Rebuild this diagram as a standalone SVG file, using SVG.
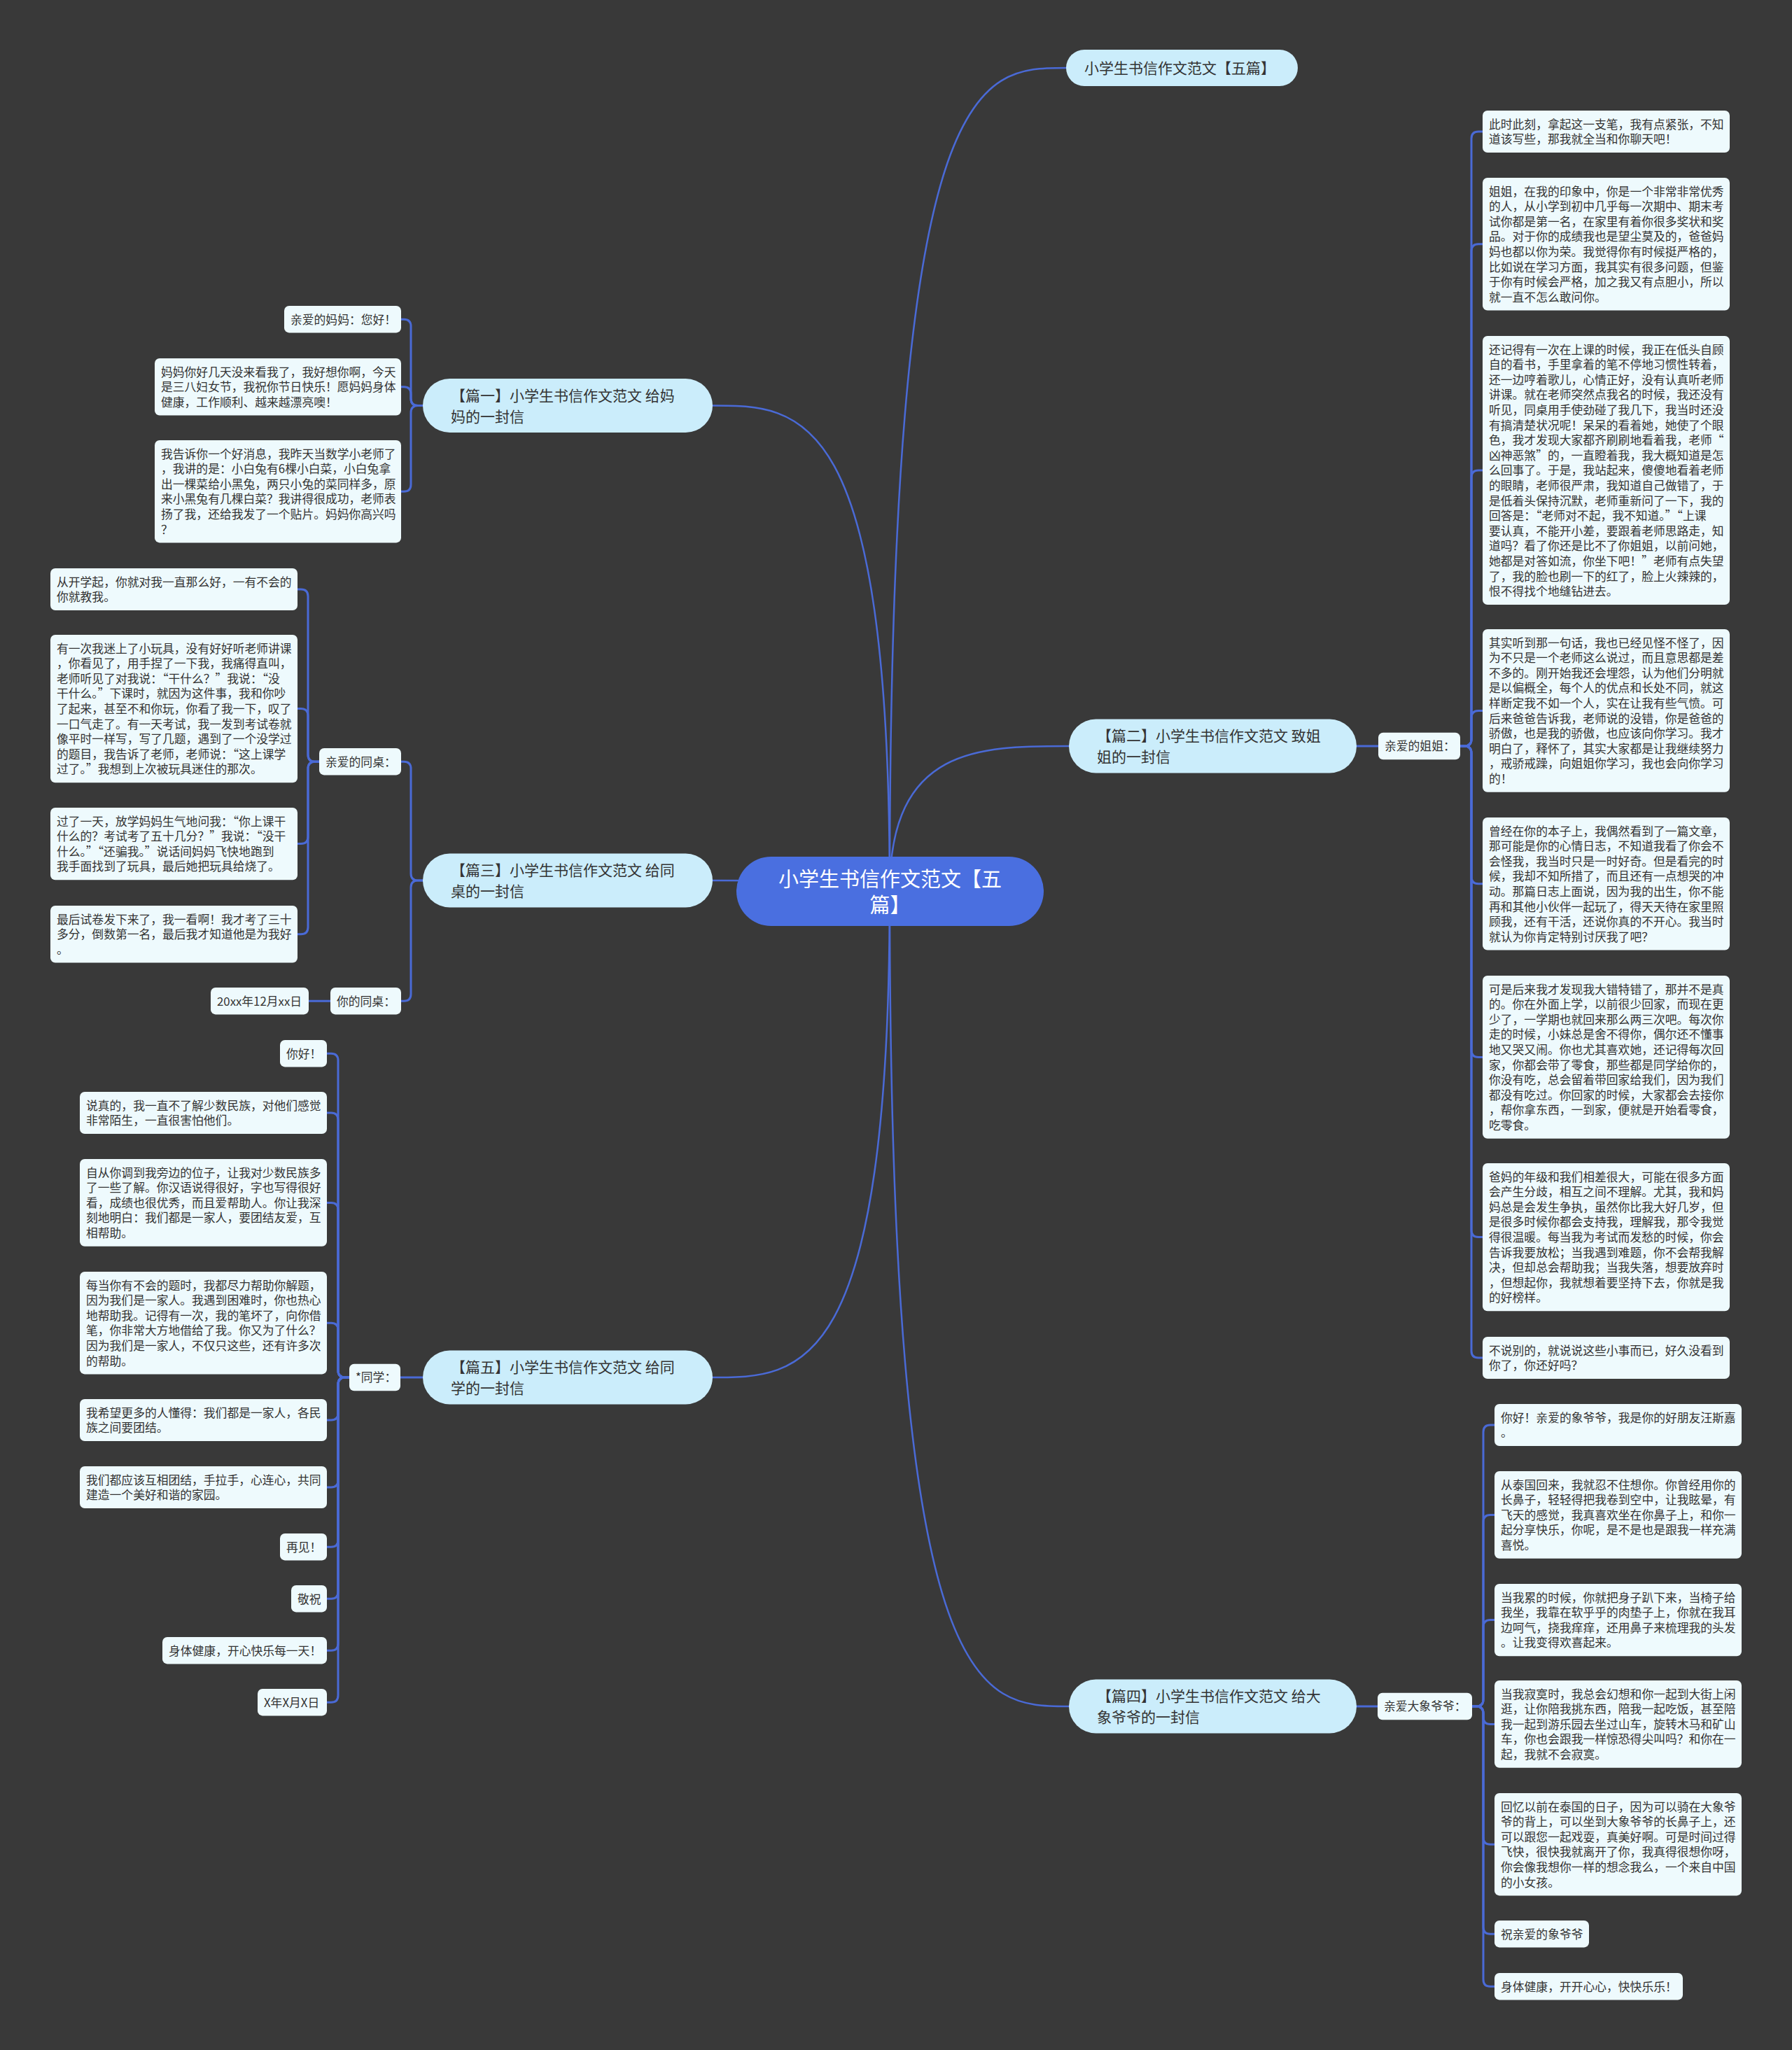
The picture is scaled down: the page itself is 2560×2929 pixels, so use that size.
<svg xmlns="http://www.w3.org/2000/svg" width="2560" height="2929" viewBox="0 0 2560 2929">
<style>
text{font-family:"Noto Sans CJK SC","Noto Sans",sans-serif}
.lf rect{fill:#eefafd}
.lf text{font-size:16.8px;fill:#333}
.br rect{fill:#cbedfb}
.br text{font-size:21px;fill:#333}
.rt rect{fill:#4a6fe0}
.rt text{font-size:29px;fill:#fff;text-anchor:middle}
#connectors path{fill:none;stroke:#4a6ad6;stroke-width:3;stroke-linecap:round}
#connectors .mc{stroke-width:2.5}
</style>
<rect width="2560" height="2929" fill="#393939"/>
<g id="connectors">
<path class="mc" d="M1271 1273C1271 97 1397 97 1523 97"/>
<path class="mc" d="M1271 1273C1271 1066 1399 1066 1527 1066"/>
<path class="mc" d="M1271 1273C1271 2438 1399 2438 1527 2438"/>
<path class="mc" d="M1271 1273C1271 579.5 1144.5 579.5 1018 579.5"/>
<path class="mc" d="M1271 1273C1271 1258 1144.5 1258 1018 1258"/>
<path class="mc" d="M1271 1273C1271 1968 1144.5 1968 1018 1968"/>
<path d="M604 579.5H597Q587 579.5 587 569.5V466.2Q587 456.2 577 456.2H573"/>
<path d="M604 579.5H597Q587 579.5 587 569.5V562.8Q587 552.8 577 552.8H573"/>
<path d="M604 579.5H597Q587 579.5 587 589.5V692.2Q587 702.2 577 702.2H573"/>
<path d="M604 1258H597Q587 1258 587 1248V1098.2Q587 1088.2 577 1088.2H573"/>
<path d="M604 1258H597Q587 1258 587 1268V1420.2Q587 1430.2 577 1430.2H573"/>
<path d="M472 1430.2H441"/>
<path d="M456 1088.2H450Q440 1088.2 440 1078.2V852Q440 842 430 842H425"/>
<path d="M456 1088.2H450Q440 1088.2 440 1078.2V1022.6Q440 1012.6 430 1012.6H425"/>
<path d="M456 1088.2H450Q440 1088.2 440 1098.2V1195.6Q440 1205.6 430 1205.6H425"/>
<path d="M456 1088.2H450Q440 1088.2 440 1098.2V1324.8Q440 1334.8 430 1334.8H425"/>
<path d="M604 1968H572"/>
<path d="M499 1968H493Q483 1968 483 1958V1515.2Q483 1505.2 473 1505.2H467"/>
<path d="M499 1968H493Q483 1968 483 1958V1600Q483 1590 473 1590H467"/>
<path d="M499 1968H493Q483 1968 483 1958V1728.4Q483 1718.4 473 1718.4H467"/>
<path d="M499 1968H493Q483 1968 483 1958V1900.2Q483 1890.2 473 1890.2H467"/>
<path d="M499 1968H493Q483 1968 483 1978V2019Q483 2029 473 2029H467"/>
<path d="M499 1968H493Q483 1968 483 1978V2115Q483 2125 473 2125H467"/>
<path d="M499 1968H493Q483 1968 483 1978V2200.2Q483 2210.2 473 2210.2H467"/>
<path d="M499 1968H493Q483 1968 483 1978V2274.2Q483 2284.2 473 2284.2H467"/>
<path d="M499 1968H493Q483 1968 483 1978V2348.2Q483 2358.2 473 2358.2H467"/>
<path d="M499 1968H493Q483 1968 483 1978V2422.2Q483 2432.2 473 2432.2H467"/>
<path d="M1938 1066H1969"/>
<path d="M2086 1066H2092Q2102 1066 2102 1056V198Q2102 188 2112 188H2118"/>
<path d="M2086 1066H2092Q2102 1066 2102 1056V358.8Q2102 348.8 2112 348.8H2118"/>
<path d="M2086 1066H2092Q2102 1066 2102 1056V682Q2102 672 2112 672H2118"/>
<path d="M2086 1066H2092Q2102 1066 2102 1056V1025.4Q2102 1015.4 2112 1015.4H2118"/>
<path d="M2086 1066H2092Q2102 1066 2102 1076V1252.8Q2102 1262.8 2112 1262.8H2118"/>
<path d="M2086 1066H2092Q2102 1066 2102 1076V1500.4Q2102 1510.4 2112 1510.4H2118"/>
<path d="M2086 1066H2092Q2102 1066 2102 1076V1757.6Q2102 1767.6 2112 1767.6H2118"/>
<path d="M2086 1066H2092Q2102 1066 2102 1076V1930Q2102 1940 2112 1940H2118"/>
<path d="M1938 2438H1968"/>
<path d="M2103 2438H2109Q2119 2438 2119 2428V2046Q2119 2036 2129 2036H2135"/>
<path d="M2103 2438H2109Q2119 2438 2119 2428V2174.4Q2119 2164.4 2129 2164.4H2135"/>
<path d="M2103 2438H2109Q2119 2438 2119 2428V2324.6Q2119 2314.6 2129 2314.6H2135"/>
<path d="M2103 2438H2109Q2119 2438 2119 2448V2453.4Q2119 2463.4 2129 2463.4H2135"/>
<path d="M2103 2438H2109Q2119 2438 2119 2448V2625.2Q2119 2635.2 2129 2635.2H2135"/>
<path d="M2103 2438H2109Q2119 2438 2119 2448V2753.2Q2119 2763.2 2129 2763.2H2135"/>
<path d="M2103 2438H2109Q2119 2438 2119 2448V2828.2Q2119 2838.2 2129 2838.2H2135"/>
</g>

<g id="root" class="rt"><rect x="1052" y="1224" width="439" height="99" rx="49.5"/><text x="1271.5" y="1267">小学生书信作文范文【五<tspan x="1271.5" y="1304">篇】</tspan></text></g>

<g id="b0" class="br" transform="translate(1523,71)"><rect width="331" height="52" rx="26"/><text x="26" y="34">小学生书信作文范文【五篇】</text></g>
<g id="b1" class="br" transform="translate(604,541)"><rect width="414" height="77" rx="38.5"/><text x="40" y="31.5">【篇一】小学生书信作文范文 给妈<tspan x="40" y="61.5">妈的一封信</tspan></text></g>
<g id="b2" class="br" transform="translate(1527,1027.5)"><rect width="411" height="77" rx="38.5"/><text x="40" y="31.5">【篇二】小学生书信作文范文 致姐<tspan x="40" y="61.5">姐的一封信</tspan></text></g>
<g id="b3" class="br" transform="translate(604,1219.5)"><rect width="414" height="77" rx="38.5"/><text x="40" y="31.5">【篇三】小学生书信作文范文 给同<tspan x="40" y="61.5">桌的一封信</tspan></text></g>
<g id="b5" class="br" transform="translate(604,1929.5)"><rect width="414" height="77" rx="38.5"/><text x="40" y="31.5">【篇五】小学生书信作文范文 给同<tspan x="40" y="61.5">学的一封信</tspan></text></g>
<g id="b4" class="br" transform="translate(1527,2399.5)"><rect width="411" height="77" rx="38.5"/><text x="40" y="31.5">【篇四】小学生书信作文范文 给大<tspan x="40" y="61.5">象爷爷的一封信</tspan></text></g>

<g id="m1" class="lf" transform="translate(406,437)"><rect width="167" height="38.4" rx="7"/><text x="9" y="25.6">亲爱的妈妈：您好！</text></g>
<g id="m2" class="lf" transform="translate(221,512)"><rect width="352" height="81.6" rx="7"/><text x="9" y="25.6"><tspan x="9">妈妈你好几天没来看我了，我好想你啊，今天</tspan><tspan x="9" dy="21.6">是三八妇女节，我祝你节日快乐！愿妈妈身体</tspan><tspan x="9" dy="21.6">健康，工作顺利、越来越漂亮噢！</tspan></text></g>
<g id="m3" class="lf" transform="translate(221,629)"><rect width="352" height="146.4" rx="7"/><text x="9" y="25.6"><tspan x="9">我告诉你一个好消息，我昨天当数学小老师了</tspan><tspan x="9" dy="21.6">，我讲的是：小白兔有6棵小白菜，小白兔拿</tspan><tspan x="9" dy="21.6">出一棵菜给小黑兔，两只小兔的菜同样多，原</tspan><tspan x="9" dy="21.6">来小黑兔有几棵白菜？我讲得很成功，老师表</tspan><tspan x="9" dy="21.6">扬了我，还给我发了一个贴片。妈妈你高兴吗</tspan><tspan x="9" dy="21.6">？</tspan></text></g>

<g id="t0" class="lf" transform="translate(456,1069)"><rect width="117" height="38.4" rx="7"/><text x="9" y="25.6">亲爱的同桌：</text></g>
<g id="t1" class="lf" transform="translate(72,812)"><rect width="353" height="60" rx="7"/><text x="9" y="25.6"><tspan x="9">从开学起，你就对我一直那么好，一有不会的</tspan><tspan x="9" dy="21.6">你就教我。</tspan></text></g>
<g id="t2" class="lf" transform="translate(72,907)"><rect width="353" height="211.2" rx="7"/><text x="9" y="25.6"><tspan x="9">有一次我迷上了小玩具，没有好好听老师讲课</tspan><tspan x="9" dy="21.6">，你看见了，用手捏了一下我，我痛得直叫，</tspan><tspan x="9" dy="21.6">老师听见了对我说：“干什么？”我说：“没</tspan><tspan x="9" dy="21.6">干什么。”下课时，就因为这件事，我和你吵</tspan><tspan x="9" dy="21.6">了起来，甚至不和你玩，你看了我一下，叹了</tspan><tspan x="9" dy="21.6">一口气走了。有一天考试，我一发到考试卷就</tspan><tspan x="9" dy="21.6">像平时一样写，写了几题，遇到了一个没学过</tspan><tspan x="9" dy="21.6">的题目，我告诉了老师，老师说：“这上课学</tspan><tspan x="9" dy="21.6">过了。”我想到上次被玩具迷住的那次。</tspan></text></g>
<g id="t3" class="lf" transform="translate(72,1154)"><rect width="353" height="103.2" rx="7"/><text x="9" y="25.6"><tspan x="9">过了一天，放学妈妈生气地问我：“你上课干</tspan><tspan x="9" dy="21.6">什么的？考试考了五十几分？”我说：“没干</tspan><tspan x="9" dy="21.6">什么。”“还骗我。”说话间妈妈飞快地跑到</tspan><tspan x="9" dy="21.6">我手面找到了玩具，最后她把玩具给烧了。</tspan></text></g>
<g id="t4" class="lf" transform="translate(72,1294)"><rect width="353" height="81.6" rx="7"/><text x="9" y="25.6"><tspan x="9">最后试卷发下来了，我一看啊！我才考了三十</tspan><tspan x="9" dy="21.6">多分，倒数第一名，最后我才知道他是为我好</tspan><tspan x="9" dy="21.6">。</tspan></text></g>
<g id="t5" class="lf" transform="translate(472,1411)"><rect width="101" height="38.4" rx="7"/><text x="9" y="25.6">你的同桌：</text></g>
<g id="t6" class="lf" transform="translate(301,1411)"><rect width="140" height="38.4" rx="7"/><text x="9" y="25.6">20xx年12月xx日</text></g>

<g id="s0" class="lf" transform="translate(499,1948.8)"><rect width="73" height="38.4" rx="7"/><text x="9" y="25.6">*同学：</text></g>
<g id="s1" class="lf" transform="translate(400,1486)"><rect width="67" height="38.4" rx="7"/><text x="9" y="25.6">你好！</text></g>
<g id="s2" class="lf" transform="translate(114,1560)"><rect width="353" height="60" rx="7"/><text x="9" y="25.6"><tspan x="9">说真的，我一直不了解少数民族，对他们感觉</tspan><tspan x="9" dy="21.6">非常陌生，一直很害怕他们。</tspan></text></g>
<g id="s3" class="lf" transform="translate(114,1656)"><rect width="353" height="124.8" rx="7"/><text x="9" y="25.6"><tspan x="9">自从你调到我旁边的位子，让我对少数民族多</tspan><tspan x="9" dy="21.6">了一些了解。你汉语说得很好，字也写得很好</tspan><tspan x="9" dy="21.6">看，成绩也很优秀，而且爱帮助人。你让我深</tspan><tspan x="9" dy="21.6">刻地明白：我们都是一家人，要团结友爱，互</tspan><tspan x="9" dy="21.6">相帮助。</tspan></text></g>
<g id="s4" class="lf" transform="translate(114,1817)"><rect width="353" height="146.4" rx="7"/><text x="9" y="25.6"><tspan x="9">每当你有不会的题时，我都尽力帮助你解题，</tspan><tspan x="9" dy="21.6">因为我们是一家人。我遇到困难时，你也热心</tspan><tspan x="9" dy="21.6">地帮助我。记得有一次，我的笔坏了，向你借</tspan><tspan x="9" dy="21.6">笔，你非常大方地借给了我。你又为了什么？</tspan><tspan x="9" dy="21.6">因为我们是一家人，不仅只这些，还有许多次</tspan><tspan x="9" dy="21.6">的帮助。</tspan></text></g>
<g id="s5" class="lf" transform="translate(114,1999)"><rect width="353" height="60" rx="7"/><text x="9" y="25.6"><tspan x="9">我希望更多的人懂得：我们都是一家人，各民</tspan><tspan x="9" dy="21.6">族之间要团结。</tspan></text></g>
<g id="s6" class="lf" transform="translate(114,2095)"><rect width="353" height="60" rx="7"/><text x="9" y="25.6"><tspan x="9">我们都应该互相团结，手拉手，心连心，共同</tspan><tspan x="9" dy="21.6">建造一个美好和谐的家园。</tspan></text></g>
<g id="s7" class="lf" transform="translate(400,2191)"><rect width="67" height="38.4" rx="7"/><text x="9" y="25.6">再见！</text></g>
<g id="s8" class="lf" transform="translate(416,2265)"><rect width="51" height="38.4" rx="7"/><text x="9" y="25.6">敬祝</text></g>
<g id="s9" class="lf" transform="translate(232,2339)"><rect width="235" height="38.4" rx="7"/><text x="9" y="25.6">身体健康，开心快乐每一天！</text></g>
<g id="s10" class="lf" transform="translate(368,2413)"><rect width="99" height="38.4" rx="7"/><text x="9" y="25.6">X年X月X日</text></g>

<g id="j0" class="lf" transform="translate(1969,1046.8)"><rect width="117" height="38.4" rx="7"/><text x="9" y="25.6">亲爱的姐姐：</text></g>
<g id="j1" class="lf" transform="translate(2118,158)"><rect width="353" height="60" rx="7"/><text x="9" y="25.6"><tspan x="9">此时此刻，拿起这一支笔，我有点紧张，不知</tspan><tspan x="9" dy="21.6">道该写些，那我就全当和你聊天吧！</tspan></text></g>
<g id="j2" class="lf" transform="translate(2118,254)"><rect width="353" height="189.6" rx="7"/><text x="9" y="25.6"><tspan x="9">姐姐，在我的印象中，你是一个非常非常优秀</tspan><tspan x="9" dy="21.6">的人，从小学到初中几乎每一次期中、期末考</tspan><tspan x="9" dy="21.6">试你都是第一名，在家里有着你很多奖状和奖</tspan><tspan x="9" dy="21.6">品。对于你的成绩我也是望尘莫及的，爸爸妈</tspan><tspan x="9" dy="21.6">妈也都以你为荣。我觉得你有时候挺严格的，</tspan><tspan x="9" dy="21.6">比如说在学习方面，我其实有很多问题，但鉴</tspan><tspan x="9" dy="21.6">于你有时候会严格，加之我又有点胆小，所以</tspan><tspan x="9" dy="21.6">就一直不怎么敢问你。</tspan></text></g>
<g id="j3" class="lf" transform="translate(2118,480)"><rect width="353" height="384" rx="7"/><text x="9" y="25.6"><tspan x="9">还记得有一次在上课的时候，我正在低头自顾</tspan><tspan x="9" dy="21.6">自的看书，手里拿着的笔不停地习惯性转着，</tspan><tspan x="9" dy="21.6">还一边哼着歌儿，心情正好，没有认真听老师</tspan><tspan x="9" dy="21.6">讲课。就在老师突然点我名的时候，我还没有</tspan><tspan x="9" dy="21.6">听见，同桌用手使劲碰了我几下，我当时还没</tspan><tspan x="9" dy="21.6">有搞清楚状况呢！呆呆的看着她，她使了个眼</tspan><tspan x="9" dy="21.6">色，我才发现大家都齐刷刷地看着我，老师“</tspan><tspan x="9" dy="21.6">凶神恶煞”的，一直瞪着我，我大概知道是怎</tspan><tspan x="9" dy="21.6">么回事了。于是，我站起来，傻傻地看着老师</tspan><tspan x="9" dy="21.6">的眼睛，老师很严肃，我知道自己做错了，于</tspan><tspan x="9" dy="21.6">是低着头保持沉默，老师重新问了一下，我的</tspan><tspan x="9" dy="21.6">回答是：“老师对不起，我不知道。”“上课</tspan><tspan x="9" dy="21.6">要认真，不能开小差，要跟着老师思路走，知</tspan><tspan x="9" dy="21.6">道吗？看了你还是比不了你姐姐，以前问她，</tspan><tspan x="9" dy="21.6">她都是对答如流，你坐下吧！”老师有点失望</tspan><tspan x="9" dy="21.6">了，我的脸也刷一下的红了，脸上火辣辣的，</tspan><tspan x="9" dy="21.6">恨不得找个地缝钻进去。</tspan></text></g>
<g id="j4" class="lf" transform="translate(2118,899)"><rect width="353" height="232.8" rx="7"/><text x="9" y="25.6"><tspan x="9">其实听到那一句话，我也已经见怪不怪了，因</tspan><tspan x="9" dy="21.6">为不只是一个老师这么说过，而且意思都是差</tspan><tspan x="9" dy="21.6">不多的。刚开始我还会埋怨，认为他们分明就</tspan><tspan x="9" dy="21.6">是以偏概全，每个人的优点和长处不同，就这</tspan><tspan x="9" dy="21.6">样断定我不如一个人，实在让我有些气愤。可</tspan><tspan x="9" dy="21.6">后来爸爸告诉我，老师说的没错，你是爸爸的</tspan><tspan x="9" dy="21.6">骄傲，也是我的骄傲，也应该向你学习。我才</tspan><tspan x="9" dy="21.6">明白了，释怀了，其实大家都是让我继续努力</tspan><tspan x="9" dy="21.6">，戒骄戒躁，向姐姐你学习，我也会向你学习</tspan><tspan x="9" dy="21.6">的！</tspan></text></g>
<g id="j5" class="lf" transform="translate(2118,1168)"><rect width="353" height="189.6" rx="7"/><text x="9" y="25.6"><tspan x="9">曾经在你的本子上，我偶然看到了一篇文章，</tspan><tspan x="9" dy="21.6">那可能是你的心情日志，不知道我看了你会不</tspan><tspan x="9" dy="21.6">会怪我，我当时只是一时好奇。但是看完的时</tspan><tspan x="9" dy="21.6">候，我却不知所措了，而且还有一点想哭的冲</tspan><tspan x="9" dy="21.6">动。那篇日志上面说，因为我的出生，你不能</tspan><tspan x="9" dy="21.6">再和其他小伙伴一起玩了，得天天待在家里照</tspan><tspan x="9" dy="21.6">顾我，还有干活，还说你真的不开心。我当时</tspan><tspan x="9" dy="21.6">就认为你肯定特别讨厌我了吧？</tspan></text></g>
<g id="j6" class="lf" transform="translate(2118,1394)"><rect width="353" height="232.8" rx="7"/><text x="9" y="25.6"><tspan x="9">可是后来我才发现我大错特错了，那并不是真</tspan><tspan x="9" dy="21.6">的。你在外面上学，以前很少回家，而现在更</tspan><tspan x="9" dy="21.6">少了，一学期也就回来那么两三次吧。每次你</tspan><tspan x="9" dy="21.6">走的时候，小妹总是舍不得你，偶尔还不懂事</tspan><tspan x="9" dy="21.6">地又哭又闹。你也尤其喜欢她，还记得每次回</tspan><tspan x="9" dy="21.6">家，你都会带了零食，那些都是同学给你的，</tspan><tspan x="9" dy="21.6">你没有吃，总会留着带回家给我们，因为我们</tspan><tspan x="9" dy="21.6">都没有吃过。你回家的时候，大家都会去接你</tspan><tspan x="9" dy="21.6">，帮你拿东西，一到家，便就是开始看零食，</tspan><tspan x="9" dy="21.6">吃零食。</tspan></text></g>
<g id="j7" class="lf" transform="translate(2118,1662)"><rect width="353" height="211.2" rx="7"/><text x="9" y="25.6"><tspan x="9">爸妈的年级和我们相差很大，可能在很多方面</tspan><tspan x="9" dy="21.6">会产生分歧，相互之间不理解。尤其，我和妈</tspan><tspan x="9" dy="21.6">妈总是会发生争执，虽然你比我大好几岁，但</tspan><tspan x="9" dy="21.6">是很多时候你都会支持我，理解我，那令我觉</tspan><tspan x="9" dy="21.6">得很温暖。每当我为考试而发愁的时候，你会</tspan><tspan x="9" dy="21.6">告诉我要放松；当我遇到难题，你不会帮我解</tspan><tspan x="9" dy="21.6">决，但却总会帮助我；当我失落，想要放弃时</tspan><tspan x="9" dy="21.6">，但想起你，我就想着要坚持下去，你就是我</tspan><tspan x="9" dy="21.6">的好榜样。</tspan></text></g>
<g id="j8" class="lf" transform="translate(2118,1910)"><rect width="353" height="60" rx="7"/><text x="9" y="25.6"><tspan x="9">不说别的，就说说这些小事而已，好久没看到</tspan><tspan x="9" dy="21.6">你了，你还好吗？</tspan></text></g>

<g id="e0" class="lf" transform="translate(1968,2418.8)"><rect width="135" height="38.4" rx="7"/><text x="9" y="25.6">亲爱大象爷爷：</text></g>
<g id="e1" class="lf" transform="translate(2135,2006)"><rect width="353" height="60" rx="7"/><text x="9" y="25.6"><tspan x="9">你好！亲爱的象爷爷，我是你的好朋友汪斯嘉</tspan><tspan x="9" dy="21.6">。</tspan></text></g>
<g id="e2" class="lf" transform="translate(2135,2102)"><rect width="353" height="124.8" rx="7"/><text x="9" y="25.6"><tspan x="9">从泰国回来，我就忍不住想你。你曾经用你的</tspan><tspan x="9" dy="21.6">长鼻子，轻轻得把我卷到空中，让我眩晕，有</tspan><tspan x="9" dy="21.6">飞天的感觉，我真喜欢坐在你鼻子上，和你一</tspan><tspan x="9" dy="21.6">起分享快乐，你呢，是不是也是跟我一样充满</tspan><tspan x="9" dy="21.6">喜悦。</tspan></text></g>
<g id="e3" class="lf" transform="translate(2135,2263)"><rect width="353" height="103.2" rx="7"/><text x="9" y="25.6"><tspan x="9">当我累的时候，你就把身子趴下来，当椅子给</tspan><tspan x="9" dy="21.6">我坐，我靠在软乎乎的肉垫子上，你就在我耳</tspan><tspan x="9" dy="21.6">边呵气，挠我痒痒，还用鼻子来梳理我的头发</tspan><tspan x="9" dy="21.6">。让我变得欢喜起来。</tspan></text></g>
<g id="e4" class="lf" transform="translate(2135,2401)"><rect width="353" height="124.8" rx="7"/><text x="9" y="25.6"><tspan x="9">当我寂寞时，我总会幻想和你一起到大街上闲</tspan><tspan x="9" dy="21.6">逛，让你陪我挑东西，陪我一起吃饭，甚至陪</tspan><tspan x="9" dy="21.6">我一起到游乐园去坐过山车，旋转木马和矿山</tspan><tspan x="9" dy="21.6">车，你也会跟我一样惊恐得尖叫吗？和你在一</tspan><tspan x="9" dy="21.6">起，我就不会寂寞。</tspan></text></g>
<g id="e5" class="lf" transform="translate(2135,2562)"><rect width="353" height="146.4" rx="7"/><text x="9" y="25.6"><tspan x="9">回忆以前在泰国的日子，因为可以骑在大象爷</tspan><tspan x="9" dy="21.6">爷的背上，可以坐到大象爷爷的长鼻子上，还</tspan><tspan x="9" dy="21.6">可以跟您一起戏耍，真美好啊。可是时间过得</tspan><tspan x="9" dy="21.6">飞快，很快我就离开了你，我真得很想你呀，</tspan><tspan x="9" dy="21.6">你会像我想你一样的想念我么，一个来自中国</tspan><tspan x="9" dy="21.6">的小女孩。</tspan></text></g>
<g id="e6" class="lf" transform="translate(2135,2744)"><rect width="135" height="38.4" rx="7"/><text x="9" y="25.6">祝亲爱的象爷爷</text></g>
<g id="e7" class="lf" transform="translate(2135,2819)"><rect width="269" height="38.4" rx="7"/><text x="9" y="25.6">身体健康，开开心心，快快乐乐！</text></g>
</svg>
